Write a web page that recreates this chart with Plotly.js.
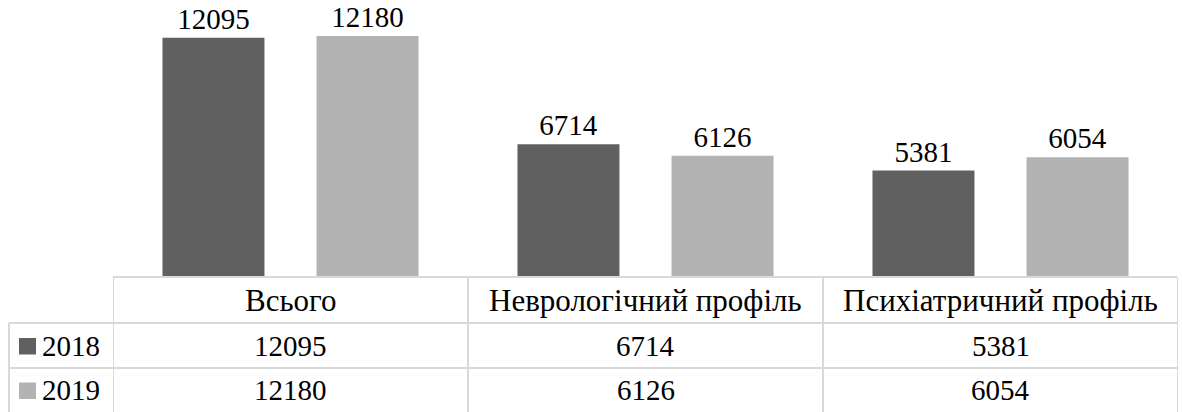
<!DOCTYPE html>
<html>
<head>
<meta charset="utf-8">
<script src="https://cdn.plot.ly/plotly-3.0.1.min.js"></script>
<style>
html,body{margin:0;padding:0;background:#fff;}
#chart{width:1182px;height:412px;}
</style>
</head>
<body>
<div id="chart"></div>
<script>
const categories = ["Всього", "Неврологічний профіль", "Психіатричний профіль"];
const seriesNames = ["2018", "2019"];
const values2018 = [12095, 6714, 5381];
const values2019 = [12180, 6126, 6054];
const seriesColors = ["#606060", "#b3b3b3"];

const W = 1182, H = 412;
const ML = 113, MR = 4, MT = 0, MB = 135;
const plotW = W - ML - MR, plotH = H - MT - MB;
const toPaperX = x => (x - ML) / plotW;
const toPaperY = y => (H - MB - y) / plotH;
const FAM = "Times New Roman";
const NUMFONT = {family: FAM, size: 29, color: "#000"};
const HEADFONT = {family: FAM, size: 31, color: "#000"};
const gridColor = "#d9d9d9";

const traces = [values2018, values2019].map((vals, i) => ({
  type: "bar",
  name: seriesNames[i],
  x: [0, 1, 2],
  y: vals,
  marker: {color: seriesColors[i]},
  text: vals.map(String),
  textposition: "outside",
  textfont: NUMFONT,
  cliponaxis: false,
  hoverinfo: "none"
}));

const shapes = [];
const annotations = [];
const yTop = 277, yHead = 323, yRow1 = 368, yBot = 412;
const hline = (x0, x1, y) => ({type: "line", xref: "paper", yref: "paper", x0: toPaperX(x0), x1: toPaperX(x1), y0: toPaperY(y), y1: toPaperY(y), line: {color: gridColor, width: 2}});
shapes.push(hline(ML, 1177, yTop));
shapes.push(hline(9, 1177, yHead));
shapes.push(hline(9, 1177, yRow1));
shapes.push({type: "line", xref: "paper", yref: "paper", x0: toPaperX(9), x1: toPaperX(9), y0: toPaperY(yHead), y1: toPaperY(yBot), line: {color: gridColor, width: 2}});
[-0.5, 0.5, 1.5, 2.5].forEach(b => {
  shapes.push({type: "line", xref: "x", yref: "paper", x0: b, x1: b, y0: toPaperY(yTop), y1: toPaperY(yBot), line: {color: gridColor, width: 2}});
});

categories.forEach((c, i) => {
  annotations.push({xref: "x", yref: "paper", x: i, y: toPaperY((yTop + yHead) / 2), text: c, showarrow: false, font: HEADFONT, xanchor: "center", yanchor: "middle"});
  [values2018, values2019].forEach((vals, r) => {
    const yc = r === 0 ? (yHead + yRow1) / 2 : (yRow1 + yBot) / 2;
    annotations.push({xref: "x", yref: "paper", x: i, y: toPaperY(yc), text: String(vals[i]), showarrow: false, font: NUMFONT, xanchor: "center", yanchor: "middle"});
  });
});
seriesNames.forEach((s, r) => {
  const yc = r === 0 ? (yHead + yRow1) / 2 : (yRow1 + yBot) / 2;
  shapes.push({type: "rect", xref: "paper", yref: "paper", x0: toPaperX(19), x1: toPaperX(36), y0: toPaperY(yc - 7.5), y1: toPaperY(yc + 9), fillcolor: seriesColors[r], line: {width: 0}});
  annotations.push({xref: "paper", yref: "paper", x: toPaperX(40), y: toPaperY(yc), text: s, showarrow: false, font: NUMFONT, xanchor: "left", yanchor: "middle"});
});

const layout = {
  width: W, height: H,
  margin: {l: ML, r: MR, t: MT, b: MB, pad: 0},
  paper_bgcolor: "#fff", plot_bgcolor: "#fff",
  barmode: "group", bargap: 0.132, bargroupgap: 0.338,
  showlegend: false,
  font: {family: FAM, color: "#000"},
  xaxis: {range: [-0.5, 2.5], showticklabels: false, showgrid: false, zeroline: false, showline: false, ticks: ""},
  yaxis: {range: [0, 14000], showticklabels: false, showgrid: false, zeroline: false, showline: false, ticks: ""},
  shapes: shapes,
  annotations: annotations
};

Plotly.newPlot("chart", traces, layout, {displayModeBar: false, staticPlot: true});
</script>
</body>
</html>
